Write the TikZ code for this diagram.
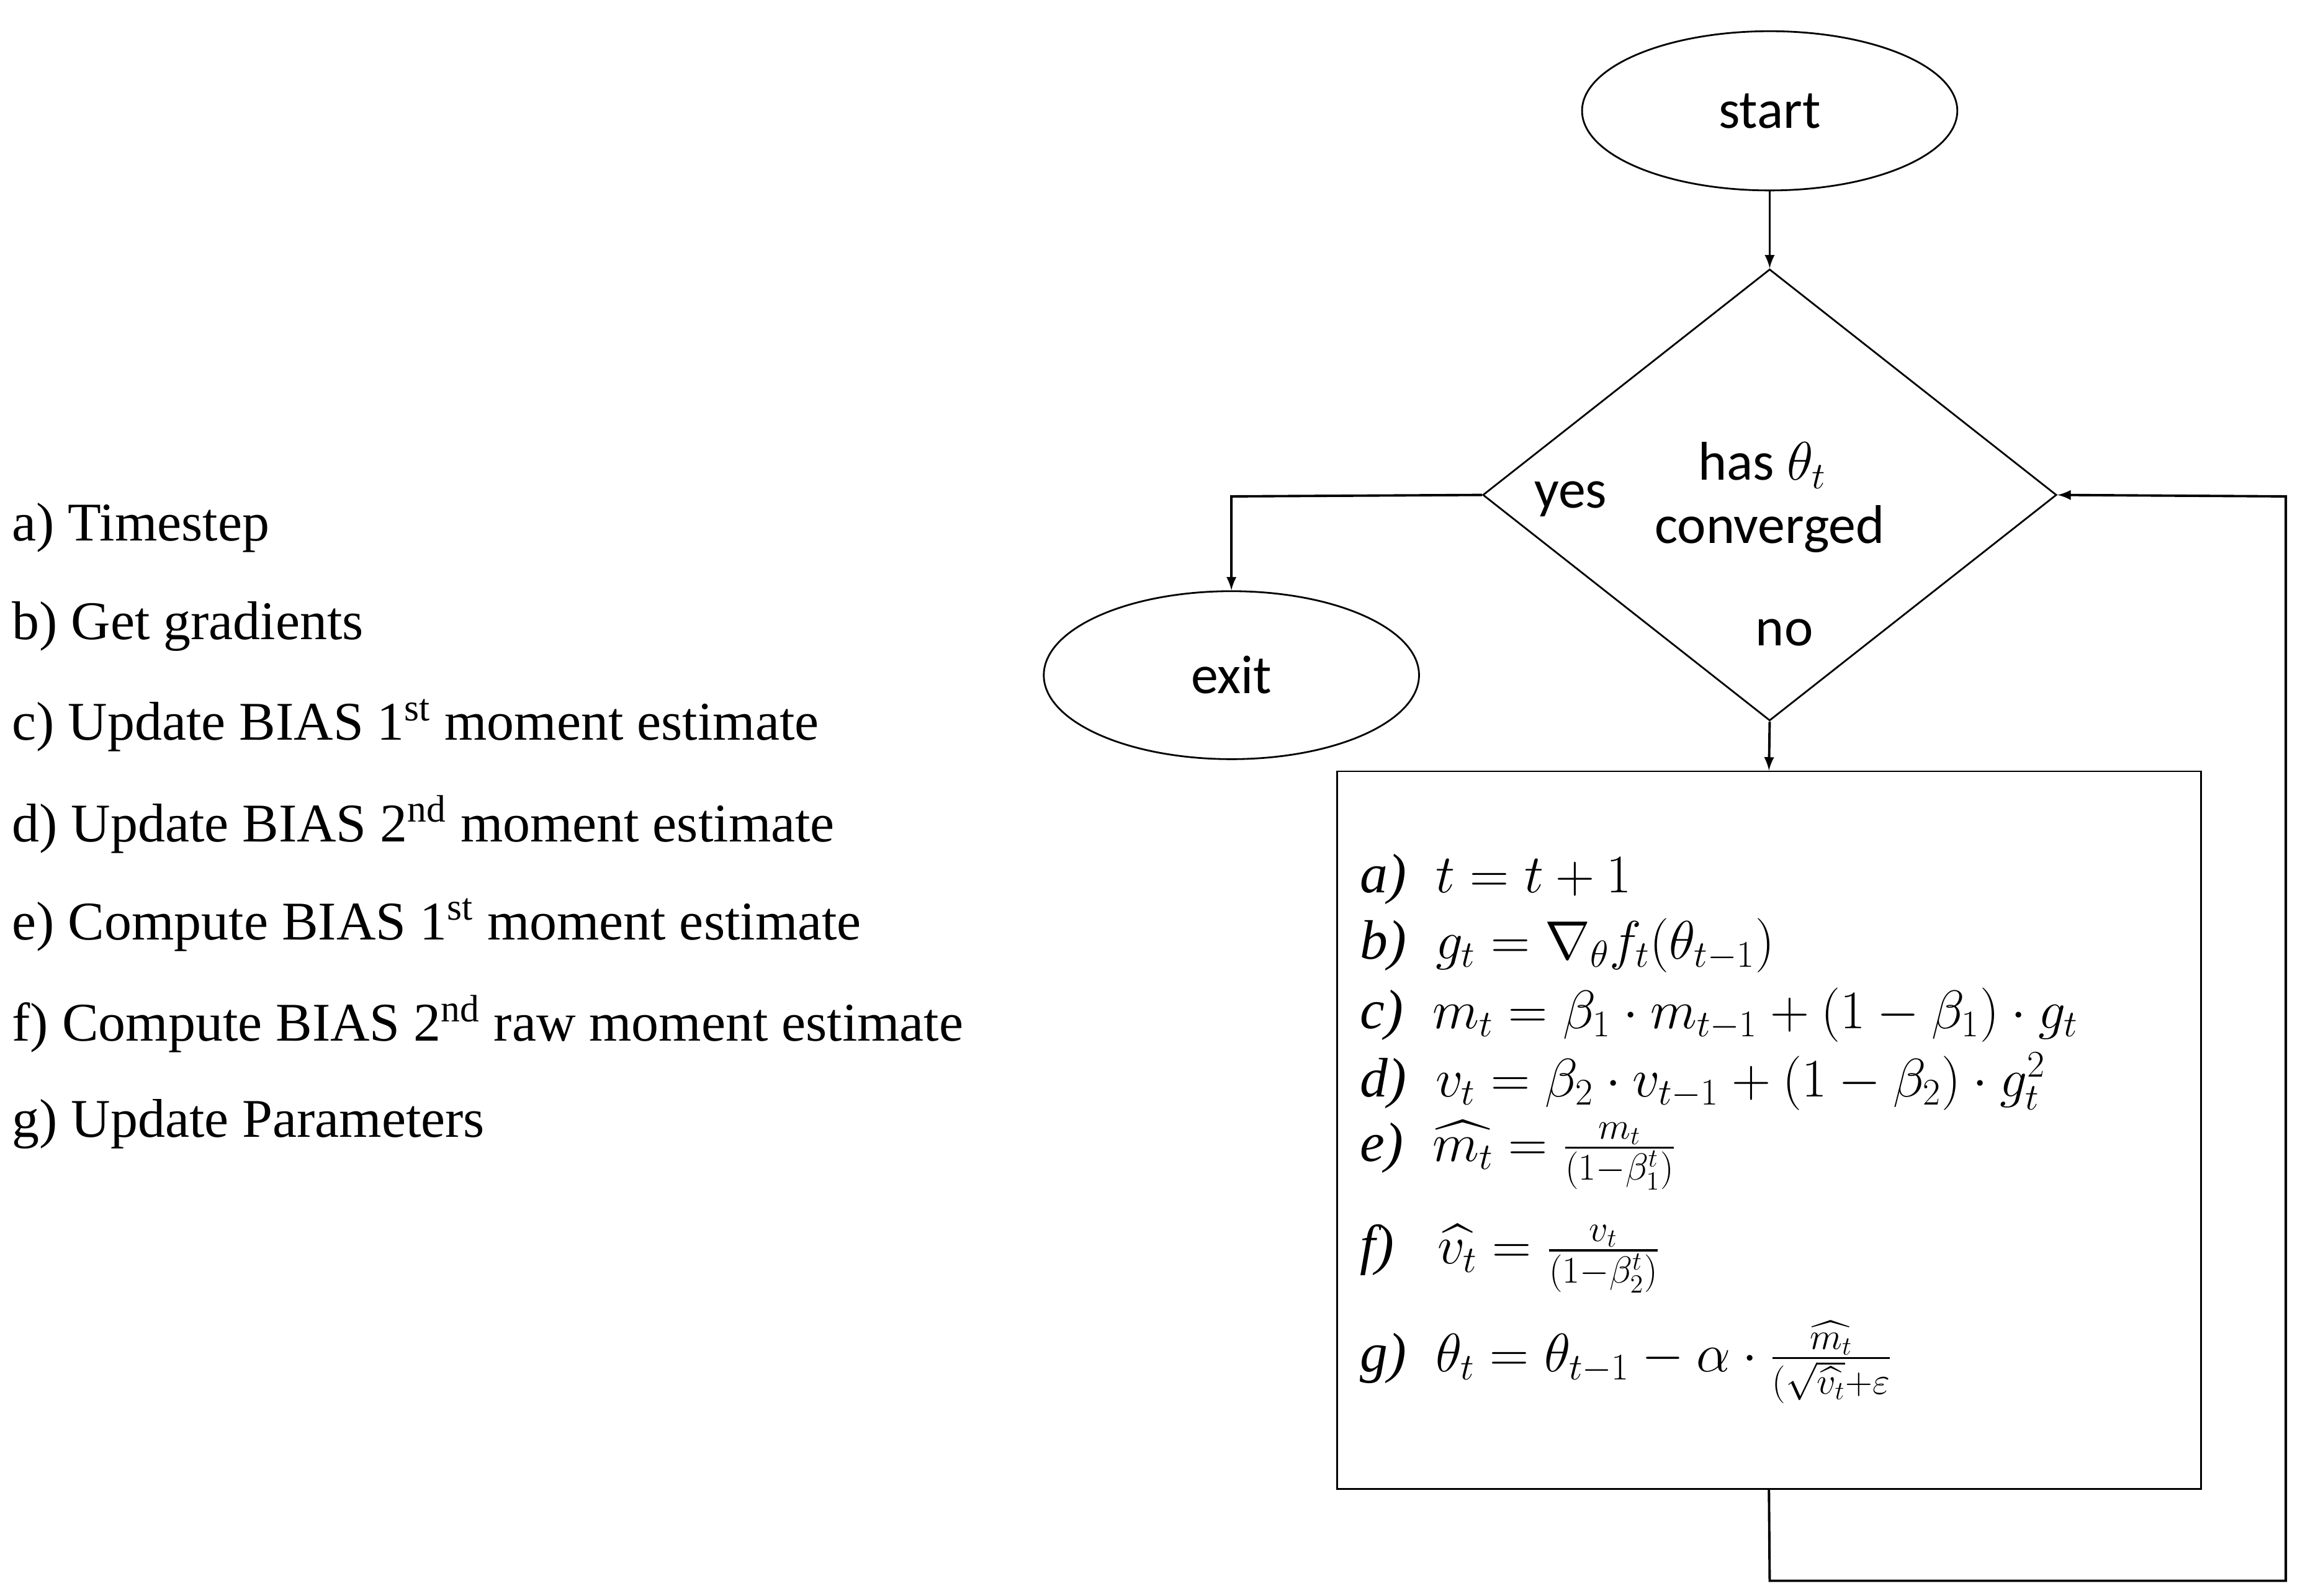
\documentclass[tikz,border=0pt]{standalone}
\usepackage{amsmath}
\usepackage{fontspec}
\setmainfont{Liberation Serif}
\newfontfamily\flowfont{Carlito}
\usetikzlibrary{shapes.geometric, arrows, calc, positioning}
\tikzstyle{term} = [ellipse, thick, minimum width=172pt, minimum height=73pt, inner sep=0pt, draw=black, font=\flowfont\fontsize{25}{29}\selectfont]
\tikzstyle{decision} = [diamond, thick, minimum width=263pt, minimum height=207pt, draw=black, inner sep=0pt]
\tikzstyle{label} = [font=\flowfont\fontsize{25}{29}\selectfont]
\tikzstyle{item} = [anchor=west, inner sep=0pt, font=\fontsize{25}{29}\selectfont]
\tikzstyle{eq} = [anchor=west, inner sep=0pt, font=\fontsize{25.5}{30}\selectfont]
\tikzstyle{arrow} = [line width=1.1pt,->,>=latex]
\begin{document}
\begin{tikzpicture}[x=0.02376cm, y=-0.02381cm]
	\useasboundingbox (0,0) rectangle (1563,1080);
	\node (Start) [term] at (1200,75) {start};
	\node (Converged) [decision] at (1200,335) {};
	\node (Exit) [term, minimum height=77pt] at (835,457) {exit};
	\node (Box) [draw, thick, minimum width=396pt, minimum height=329pt] at (1199.5,765) {};
	\node (HasTheta) [label] at (1195,315) {has $\theta_t$};
	\node (ConvText) [label] at (1200,358) {converged};
	\node (Yes) [label] at (1065,338) {yes};
	\node (No) [label] at (1210,428) {no};
	\coordinate (YesCorner) at (835,336);
	\coordinate (LoopBottom) at (1200,1070);
	\coordinate (LoopRight) at (1550,1070);
	\coordinate (LoopTop) at (1550,336);
	\draw [arrow] (Start) -- (Converged.north);
	\draw [arrow] (Converged.south) -- (Box.north);
	\draw [arrow] (Converged.west) -- (YesCorner) -- (Exit.north);
	\draw [arrow] (Box.south) -- (LoopBottom) -- (LoopRight) -- (LoopTop) -- (Converged.east);
	% steps
	\node (EqA) [eq] at (922,595) {\textit{a)}\; $t = t+1$};
	\node (EqB) [eq] at (922,640) {\textit{b)}\; $g_t = \nabla_\theta f_t(\theta_{t-1})$};
	\node (EqC) [eq] at (922,687) {\textit{c)}\; $m_t = \beta_1\cdot m_{t-1} + (1-\beta_1)\cdot g_t$};
	\node (EqD) [eq] at (922,732) {\textit{d)}\; $v_t = \beta_2\cdot v_{t-1} + (1-\beta_2)\cdot g_t^2$};
	\node (EqE) [eq] at (922,782) {\textit{e)}\; $\widehat{m_t} = \frac{m_t}{(1-\beta_1^t)}$};
	\node (EqF) [eq] at (922,852) {\textit{f)}\; \ $\widehat{v_t} = \frac{v_t}{(1-\beta_2^t)}$};
	\node (EqG) [eq] at (922,922) {\textit{g)}\; $\theta_t = \theta_{t-1} - \alpha\cdot\frac{\widehat{m_t}}{(\sqrt{\widehat{v_t}}+\varepsilon}$};
	% legend
	\node (ItemA) [item] at (8,357) {a) Timestep};
	\node (ItemB) [item] at (8,424) {b) Get gradients};
	\node (ItemC) [item] at (8,491) {c) Update BIAS 1\textsuperscript{st} moment estimate};
	\node (ItemD) [item] at (8,558) {d) Update BIAS 2\textsuperscript{nd} moment estimate};
	\node (ItemE) [item] at (8,626) {e) Compute BIAS 1\textsuperscript{st} moment estimate};
	\node (ItemF) [item] at (8,693) {f) Compute BIAS 2\textsuperscript{nd} raw moment estimate};
	\node (ItemG) [item] at (8,761) {g) Update Parameters};
\end{tikzpicture}
\end{document}
